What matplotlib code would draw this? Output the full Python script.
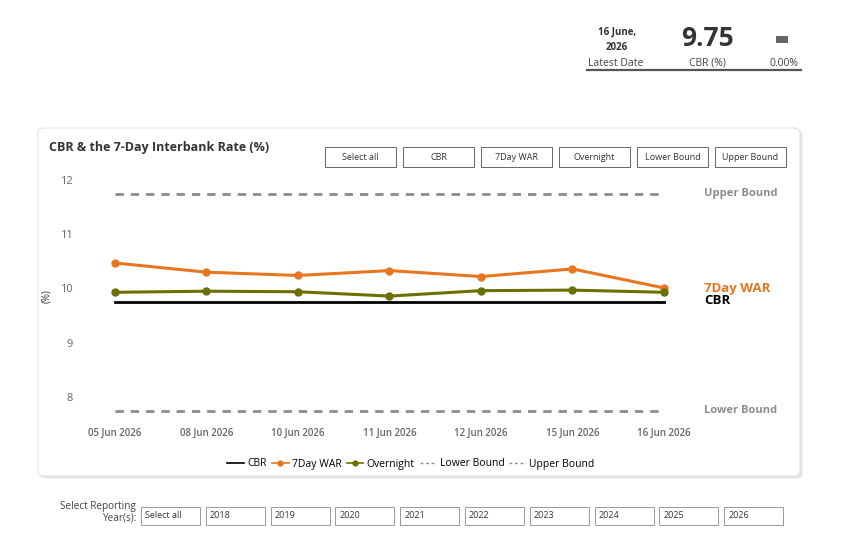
import numpy as np
import matplotlib.pyplot as plt
from matplotlib.patches import FancyBboxPatch, Rectangle
from matplotlib.lines import Line2D

plt.rcParams['font.family'] = ['Open Sans', 'DejaVu Sans']

# data
dates = ['05 Jun 2026', '08 Jun 2026', '10 Jun 2026', '11 Jun 2026',
         '12 Jun 2026', '15 Jun 2026', '16 Jun 2026']
cbr = [9.75, 9.75, 9.75, 9.75, 9.75, 9.75, 9.75]
war7 = [10.47, 10.30, 10.24, 10.33, 10.22, 10.36, 10.01]
overnight = [9.93, 9.95, 9.94, 9.86, 9.96, 9.97, 9.93]
lower = [7.75, 7.75, 7.75, 7.75, 7.75, 7.75, 7.75]
upper = [11.75, 11.75, 11.75, 11.75, 11.75, 11.75, 11.75]

buttons = ['Select all', 'CBR', '7Day WAR', 'Overnight', 'Lower Bound', 'Upper Bound']
years = ['Select all', '2018', '2019', '2020', '2021', '2022', '2023', '2024', '2025', '2026']

W, H = 861, 533
fig = plt.figure(figsize=(W/100, H/100), dpi=100)

def fx(x):
    return x/W

def fy(y):
    return 1 - y/H

c_orange = '#E8761E'
c_olive = '#6B7000'
c_gray = '#8C8C8C'

# card with soft shadow
for k, col in enumerate(['#f0f0f0', '#e6e6e6', '#dddddd']):
    off = 3 - k
    sh = FancyBboxPatch((fx(38 + off), fy(476 + off)), fx(762), (476-128)/H,
                        boxstyle='round,pad=0,rounding_size=0.008',
                        transform=fig.transFigure, facecolor=col,
                        edgecolor='none', zorder=0)
    fig.patches.append(sh)
card = FancyBboxPatch((fx(38), fy(476)), fx(762), (476-128)/H,
                      boxstyle='round,pad=0,rounding_size=0.008',
                      transform=fig.transFigure, facecolor='white',
                      edgecolor='#e3e3e3', lw=0.8, zorder=1)
fig.patches.append(card)

# main axes
ax = fig.add_axes([fx(95), fy(420), 589/W, 248/H])
ax.set_zorder(2)
ax.patch.set_alpha(0)
x = np.arange(len(dates))
ax.plot(x, upper, color=c_gray, lw=2, dashes=(3, 2.5), label='Upper Bound')
ax.plot(x, lower, color=c_gray, lw=2, dashes=(3, 2.5), label='Lower Bound')
ax.plot(x, cbr, color='black', lw=2, label='CBR')
ax.plot(x, war7, color=c_orange, lw=2.2, marker='o', ms=5, label='7Day WAR')
ax.plot(x, overnight, color=c_olive, lw=2.2, marker='o', ms=5, label='Overnight')
ax.set_xlim(-0.2186, 6.219)
ax.set_ylim(7.576, 12.147)
ax.set_yticks([8, 9, 10, 11, 12])
ax.set_xticks(x)
ax.set_xticklabels(dates, fontsize=7, color='#666666', fontweight='semibold')
ax.tick_params(axis='y', length=0, pad=16, labelsize=8, labelcolor='#666666')
ax.tick_params(axis='x', length=0, pad=6)
for s in ax.spines.values():
    s.set_visible(False)
ax.set_ylabel('(%)', fontsize=7, color='#333333', labelpad=12)
ax.yaxis.set_label_coords(-0.072, 0.5)

# end labels
ax.text(6.44, upper[-1], 'Upper Bound', color=c_gray, fontsize=8, fontweight='bold', va='center')
ax.text(6.44, lower[-1], 'Lower Bound', color=c_gray, fontsize=8, fontweight='bold', va='center')
ax.text(6.44, 10.0, '7Day WAR', color=c_orange, fontsize=9.5, fontweight='bold', va='center')
ax.text(6.44, 9.77, 'CBR', color='black', fontsize=9.5, fontweight='bold', va='center')

# title
fig.text(fx(49), fy(147), 'CBR & the 7-Day Interbank Rate (%)', fontsize=9,
         fontweight='bold', color='#333333', va='center', zorder=3)

# slicer buttons
for i, b in enumerate(buttons):
    x0 = 325 + i*78
    fig.patches.append(Rectangle((fx(x0), fy(167)), fx(71), 20/H, transform=fig.transFigure,
                                 facecolor='white', edgecolor='#666666', lw=0.7, zorder=3))
    fig.text(fx(x0 + 35.5), fy(157), b, fontsize=6.5, color='#333333',
             ha='center', va='center', zorder=4)

# legend
handles = [Line2D([], [], color='black', lw=1.2),
           Line2D([], [], color=c_orange, lw=1.2, marker='o', ms=3.5),
           Line2D([], [], color=c_olive, lw=1.2, marker='o', ms=3.5),
           Line2D([], [], color=c_gray, lw=1, dashes=(2, 2)),
           Line2D([], [], color=c_gray, lw=1, dashes=(2, 2))]
leg = fig.legend(handles, ['CBR', '7Day WAR', 'Overnight', 'Lower Bound', 'Upper Bound'],
                 loc='center', bbox_to_anchor=(fx(411), fy(464)), ncol=5, frameon=False,
                 fontsize=7.5, handlelength=1.6, handletextpad=0.3, columnspacing=0.5)
leg.set_zorder(4)

# KPI header
fig.text(fx(617), fy(32), '16 June,', fontsize=7, fontweight='bold', color='#333333',
         ha='center', va='center')
fig.text(fx(617), fy(47), '2026', fontsize=7, fontweight='bold', color='#333333',
         ha='center', va='center')
fig.text(fx(616), fy(63), 'Latest Date', fontsize=7.5, color='#444444', ha='center', va='center')
fig.text(fx(707), fy(38), '9.75', fontsize=19, fontweight='bold', color='#333333',
         ha='center', va='center')
fig.text(fx(707), fy(63), 'CBR (%)', fontsize=7.5, color='#444444', ha='center', va='center')
fig.patches.append(Rectangle((fx(776), fy(43)), fx(12), 7/H, transform=fig.transFigure,
                             facecolor='#666666', edgecolor='none'))
fig.text(fx(784), fy(63), '0.00%', fontsize=7.5, color='#444444', ha='center', va='center')
fig.add_artist(Line2D([fx(587), fx(801)], [fy(70), fy(70)], color='#555555', lw=1.6,
                      transform=fig.transFigure))

# year slicer
fig.text(fx(136), fy(506), 'Select Reporting', fontsize=7.2, color='#444444',
         ha='right', va='center')
fig.text(fx(136), fy(518), 'Year(s):', fontsize=7.2, color='#444444', ha='right', va='center')
for i, yv in enumerate(years):
    x0 = 141 + i*64.8
    fig.patches.append(Rectangle((fx(x0), fy(525)), fx(59), 18/H, transform=fig.transFigure,
                                 facecolor='white', edgecolor='#999999', lw=0.7))
    fig.text(fx(x0 + 4), fy(516), yv, fontsize=6.5, color='#333333', ha='left', va='center')

fig.savefig('out.png', dpi=100)
